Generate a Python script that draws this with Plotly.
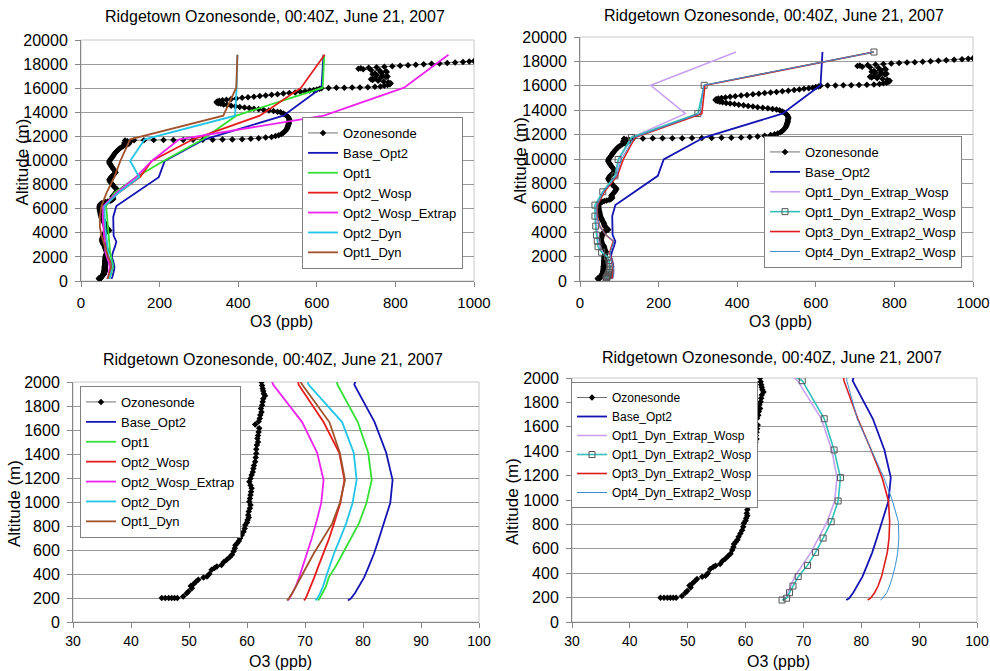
import plotly.graph_objects as go

# ---------------- DATA ----------------
TITLE = "Ridgetown Ozonesonde, 00:40Z, June 21, 2007"
X_TITLE = "O3 (ppb)"
Y_TITLE = "Altitude (m)"

TOP_X_TICKS = [0, 200, 400, 600, 800, 1000]
TOP_Y_TICKS = [0, 2000, 4000, 6000, 8000, 10000, 12000, 14000, 16000, 18000, 20000]
BOT_X_TICKS = [30, 40, 50, 60, 70, 80, 90, 100]
BOT_Y_TICKS = [0, 200, 400, 600, 800, 1000, 1200, 1400, 1600, 1800, 2000]

# Ozonesonde profile (altitude m, O3 ppb)
OZ_ALT = [199, 199, 199, 199, 199, 199, 213, 240, 255, 282, 300, 316, 335, 352, 370, 379, 400, 435, 450, 462,
          476, 500, 518, 540, 560, 590, 615, 640, 656, 675, 698, 725, 753, 780, 809, 830, 850, 870, 892, 920,
          947, 975, 1003, 1030, 1058, 1085, 1114, 1140, 1169, 1195, 1224, 1250, 1280, 1305, 1335, 1370, 1404,
          1440, 1474, 1500, 1529, 1555, 1584, 1615, 1645, 1670, 1695, 1725, 1751, 1780, 1806, 1835, 1861, 1885,
          1903, 1925, 1945, 1970, 2000,
          2100, 2200, 2300, 2400, 2500, 2600, 2700, 2800, 2900, 3000, 3100, 3200, 3300, 3400, 3500, 3600, 3700,
          3800, 3900, 4000, 4100, 4200, 4300, 4400, 4500, 4600, 4700, 4800, 4900, 5000, 5100, 5200, 5300, 5400,
          5500, 5600, 5700, 5800, 5900, 6000, 6100, 6200, 6300, 6400, 6450, 6500, 6550, 6600, 6650, 6700, 6800,
          6900, 7000, 7100, 7200, 7300, 7400, 7500, 7600, 7700, 7800, 7900, 8000, 8100, 8200, 8300, 8400, 8500,
          8600, 8700, 8800, 8900, 9000, 9100, 9200, 9300, 9400, 9500, 9600, 9700, 9800, 9900, 10000, 10100,
          10200, 10300, 10400, 10500, 10600, 10700, 10800, 10900, 11000, 11100, 11200, 11300, 11350, 11400,
          11450, 11500, 11550, 11600, 11650,
          11680, 11690, 11700, 11700, 11705, 11710, 11715, 11720, 11730, 11740, 11750, 11770, 11800, 11840,
          11900, 11960, 12030, 12100, 12200, 12300, 12400, 12500, 12600, 12700, 12800, 12900, 13000, 13100,
          13200, 13300, 13400, 13500, 13600, 13700, 13800, 13900, 14000, 14050, 14100, 14150, 14200, 14250,
          14300, 14350, 14400, 14450, 14500, 14550, 14600, 14650, 14700, 14750, 14800, 14850, 14900, 14950,
          15000, 15050, 15100, 15150, 15200, 15250, 15300, 15350, 15400, 15450, 15500, 15550, 15600, 15650,
          15700, 15750, 15800, 15850, 15900, 15950, 16000, 16020, 16030, 16040, 16050, 16060, 16080, 16110,
          16150, 16200, 16260, 16330, 16420, 16500, 16560, 16620, 16680, 16740, 16800, 16860, 16920, 16980,
          17040, 17100, 17160, 17220, 17280, 17340, 17400, 17460, 17520, 17570, 17620, 17660, 17700, 17740,
          17780, 17820, 17860, 17900, 17940, 17980, 18020, 18060, 18100, 18140, 18180, 18220, 18260]
OZ_O3 = [45.3, 45.9, 46.5, 47.0, 47.5, 48.0, 49.0, 49.6, 49.9, 50.5, 50.3, 50.8, 51.2, 51.6, 52.5, 53.1, 53.5, 53.9, 54.4, 54.8,
         55.6, 56.0, 56.5, 57.0, 57.4, 57.7, 57.9, 58.0, 58.3, 58.6, 58.8, 59.1, 59.4, 59.6, 59.7, 60.0, 60.1, 60.3, 60.2, 60.3,
         60.5, 60.6, 60.4, 60.5, 60.6, 60.7, 60.8, 60.6, 60.4, 60.6, 60.8, 61.0, 61.1, 61.2, 61.4, 61.5, 61.6,
         61.6, 61.7, 61.9, 61.8, 61.9, 62.0, 62.1, 61.4, 62.0, 62.2, 62.3, 62.5, 62.4, 62.6, 62.7, 62.8, 63.1,
         62.9, 62.8, 62.7, 62.6, 62.5,
         63, 64, 65, 66, 64, 63, 62, 61, 60, 58, 56, 55, 54, 53, 54, 55, 56,
         57, 58, 60, 66, 72, 69, 65, 63, 62, 61, 60, 58, 56, 55, 53, 52, 51,
         50, 50, 49, 48, 48, 47, 47, 47, 48, 50, 53, 57, 62, 68, 74, 78, 82,
         81, 80, 82, 85, 88, 90, 92, 92, 88, 85, 82, 80, 78, 75, 73, 72, 74,
         76, 79, 82, 85, 88, 87, 85, 82, 80, 78, 76, 74, 72, 72, 73, 75,
         78, 80, 82, 84, 86, 89, 92, 95, 98, 103, 108, 114, 118, 122,
         110, 115, 125, 118, 112,
         135, 160, 185, 210, 235, 260, 285, 310, 335, 360, 385, 410, 432, 452,
         470, 485, 495, 503, 510, 515, 518, 521, 523, 525, 526, 527, 528, 529,
         529, 530, 530, 529, 527, 524, 520, 515, 508, 500, 490, 478, 465, 452,
         440, 428, 416, 404, 393, 382, 372, 363, 356, 350, 346, 345, 347, 352,
         360, 370, 382, 395, 410, 425, 440, 455, 470, 485, 500, 515, 530, 545,
         558, 570, 582, 592, 600, 607, 612, 630, 650, 670, 690, 710, 730, 748,
         762, 772, 780, 786, 788, 782, 770, 756, 742, 738, 748, 762, 776, 780,
         768, 752, 742, 748, 764, 778, 776, 760, 738, 718, 706, 712, 732, 752,
         772, 792, 812, 832, 852, 872, 892, 912, 932, 952, 972, 988, 1000]

# Model levels (m) shared by all model runs
LEVELS = [180, 195, 240, 295, 372, 464, 571, 688, 822, 992, 1183, 1410, 1666, 1978,
          2360, 2810, 3260, 3770, 4500, 5320, 6220, 7310, 8620, 9960, 11760, 13720, 16040, 18770]

BASE_OPT2 = [77.4, 77.9, 78.6, 79.3, 80.2, 81.0, 81.9, 82.7, 83.6, 84.7, 85.1, 84.0, 82.0, 78.5,
             81, 86, 90, 83, 82, 82, 90, 140, 198, 213, 315, 515, 612, 617]
OPT1 = [72.2, 72.5, 73.0, 73.6, 74.1, 75.3, 76.5, 77.8, 79.3, 80.6, 81.5, 80.9, 79.1, 75.6,
        74, 73, 72, 70, 68, 66, 64, 85, 140, 210, 310, 395, 615, 619]
OPT2_WOSP = [69.8, 70.1, 70.5, 71.0, 71.6, 72.3, 73.2, 74.1, 75.0, 76.1, 76.8, 75.9, 73.2, 68.9,
             68, 66, 64, 62, 60, 58, 60, 95, 150, 180, 285, 455, 560, 620]
OPT2_WOSP_EXTRAP = [67.0, 67.3, 67.8, 68.4, 69.0, 69.6, 70.4, 71.1, 71.9, 72.8, 73.2, 72.1, 69.5, 64.5,
                    62, 61, 60, 58, 56, 55, 57, 90, 140, 180, 250, 618, 822, 935]
OPT2_DYN = [71.8, 72.1, 72.6, 73.1, 73.6, 74.2, 75.0, 76.0, 77.1, 78.2, 78.9, 78.4, 76.4, 70.6,
            69, 68, 66, 64, 62, 60, 60, 95, 148, 125, 162, 392, 396, 398]
OPT1_DYN = [66.9, 67.2, 67.8, 68.4, 69.3, 70.3, 71.5, 73.0, 74.7, 76.0, 76.9, 76.0, 74.2, 69.5,
            66, 62, 58, 52, 48, 48, 52, 65, 85, 100, 125, 362, 395, 398]
OPT1_DYN_EXTRAP_WOSP = [66.6, 66.9, 67.3, 67.8, 68.5, 69.8, 71.3, 72.6, 74.1, 75.4, 75.8, 74.9, 73.1, 69.0,
                        58, 50, 47, 45, 43, 41, 41, 60, 92, 100, 131, 268, 180, 397]
OPT1_DYN_EXTRAP2_WOSP = [66.3, 67.1, 67.6, 68.2, 69.1, 70.7, 72.1, 73.4, 74.8, 76.0, 76.4, 75.3, 73.6, 69.8,
                         55, 46, 44, 42, 40, 38, 38, 58, 89, 97, 131, 300, 316, 748]
OPT3_DYN_EXTRAP2_WOSP = [81.1, 81.6, 82.3, 82.9, 83.5, 84.0, 84.5, 84.8, 84.9, 84.7, 83.6, 81.7, 79.4, 77.0,
                         76, 80, 85, 66, 50, 44, 44, 62, 95, 110, 140, 310, 318, 748]
OPT4_DYN_EXTRAP2_WOSP = [83.3, 83.7, 84.4, 84.9, 85.4, 85.9, 86.3, 86.5, 86.4, 85.4, 83.9, 81.8, 79.3, 77.5,
                         77, 81, 86, 66, 50, 43, 43, 60, 93, 105, 138, 305, 315, 748]

# ---------------- STYLE / LAYOUT ----------------
W, H = 990, 671
FONT = "Liberation Sans, Arial, sans-serif"

def px_x(p):
    return p / W

def px_y(p):
    return 1 - p / H

SERIES_LEFT = [
    ("Base_Opt2", BASE_OPT2, "#1414b4", 1.8),
    ("Opt1", OPT1, "#33e033", 1.8),
    ("Opt2_Wosp", OPT2_WOSP, "#e81c1c", 1.8),
    ("Opt2_Wosp_Extrap", OPT2_WOSP_EXTRAP, "#ee22ee", 1.8),
    ("Opt2_Dyn", OPT2_DYN, "#22c4e8", 1.8),
    ("Opt1_Dyn", OPT1_DYN, "#a0522d", 1.8),
]
SERIES_RIGHT = [
    ("Base_Opt2", BASE_OPT2, "#1414b4", 1.8, None),
    ("Opt1_Dyn_Extrap_Wosp", OPT1_DYN_EXTRAP_WOSP, "#c9a0ef", 1.6, None),
    ("Opt1_Dyn_Extrap2_Wosp", OPT1_DYN_EXTRAP2_WOSP, "#33c0b8", 1.6, "square-open"),
    ("Opt3_Dyn_Extrap2_Wosp", OPT3_DYN_EXTRAP2_WOSP, "#dc1c1c", 1.6, None),
    ("Opt4_Dyn_Extrap2_Wosp", OPT4_DYN_EXTRAP2_WOSP, "#3a8fd0", 1.0, None),
]

fig = go.Figure()

panels = [
    # (axis suffix, legend name, series set, x domain px, y domain px, title y px, x-title y px)
    ("", "legend", "left", (81, 474), (40, 281), 17, 321),
    ("2", "legend2", "right", (580, 973), (37, 281), 15, 321),
    ("3", "legend3", "left", (73, 479), (382, 622), 359, 661),
    ("4", "legend4", "right", (572, 977), (378, 622), 357, 661),
]

for suf, leg, kind, xd, yd, ty, xty in panels:
    xa, ya = "x" + suf, "y" + suf
    fig.add_trace(go.Scatter(
        x=OZ_O3, y=OZ_ALT, name="Ozonesonde", mode="lines+markers",
        line=dict(color="#707070", width=1),
        marker=dict(symbol="diamond", size=5, color="black"),
        xaxis=xa, yaxis=ya, legend=leg, showlegend=True))
    if kind == "left":
        for name, vals, col, w in SERIES_LEFT:
            fig.add_trace(go.Scatter(
                x=vals, y=LEVELS, name=name, mode="lines",
                line=dict(color=col, width=w),
                xaxis=xa, yaxis=ya, legend=leg, showlegend=True))
    else:
        for name, vals, col, w, sym in SERIES_RIGHT:
            if sym:
                fig.add_trace(go.Scatter(
                    x=vals, y=LEVELS, name=name, mode="lines+markers",
                    line=dict(color=col, width=w),
                    marker=dict(symbol=sym, size=6, color="#555555", line=dict(width=1)),
                    xaxis=xa, yaxis=ya, legend=leg, showlegend=True))
            else:
                fig.add_trace(go.Scatter(
                    x=vals, y=LEVELS, name=name, mode="lines",
                    line=dict(color=col, width=w),
                    xaxis=xa, yaxis=ya, legend=leg, showlegend=True))

axis_common = dict(showline=True, linecolor="#868686", linewidth=1, ticks="outside",
                   ticklen=5, tickcolor="#868686", zeroline=False, automargin=False)

layout = dict(
    width=W, height=H, autosize=False,
    margin=dict(l=0, r=0, t=0, b=0, pad=0),
    paper_bgcolor="white", plot_bgcolor="white",
    font=dict(family=FONT, color="black"),
)

annotations = []
shapes = []
for suf, leg, kind, xd, yd, ty, xty in panels:
    is_top = suf in ("", "2")
    xr = [0, 1000] if is_top else [30, 100]
    yr = [0, 20000] if is_top else [0, 2000]
    xt = TOP_X_TICKS if is_top else BOT_X_TICKS
    yt = TOP_Y_TICKS if is_top else BOT_Y_TICKS
    layout["xaxis" + suf] = dict(axis_common, domain=[px_x(xd[0]), px_x(xd[1])], range=xr,
                                 tickvals=xt, ticktext=[str(v) for v in xt], showgrid=False,
                                 anchor="y" + suf, ticklabelstandoff=(3 if is_top else 1),
                                 ticklabeloverflow="allow",
                                 tickfont=dict(family=FONT, size=(15 if is_top else 14), color="black"))
    layout["yaxis" + suf] = dict(axis_common, domain=[px_y(yd[1]), px_y(yd[0])], range=yr,
                                 tickvals=yt, ticktext=[str(v) for v in yt],
                                 showgrid=True, gridcolor="#9a9a9a", gridwidth=1.2,
                                 anchor="x" + suf, ticklabelstandoff=4,
                                 ticklabeloverflow="allow",
                                 tickfont=dict(family=FONT, size=16, color="black"))
    xref = ("x" + suf if suf else "x") + " domain"
    yref = ("y" + suf if suf else "y") + " domain"
    shapes.append(dict(type="rect", xref=xref, yref=yref, x0=0, x1=1, y0=0, y1=1,
                       line=dict(color="#c8c8c8", width=1), layer="below"))
    cx = (xd[0] + xd[1]) / 2
    annotations.append(dict(text=TITLE, xref="paper", yref="paper",
                            x=px_x(cx - 3), y=px_y(ty), xanchor="center", yanchor="middle",
                            showarrow=False, font=dict(family=FONT, size=16, color="black")))
    annotations.append(dict(text=X_TITLE, xref="paper", yref="paper",
                            x=px_x(cx + 4), y=px_y(xty), xanchor="center", yanchor="middle",
                            showarrow=False, font=dict(family=FONT, size=16, color="black")))
    annotations.append(dict(text=Y_TITLE, xref="paper", yref="paper", textangle=-90,
                            x=px_x(xd[0] - 59), y=px_y((yd[0] + yd[1]) / 2 + 2),
                            xanchor="center", yanchor="middle",
                            showarrow=False, font=dict(family=FONT, size=17, color="black")))

legend_common = dict(bgcolor="white", bordercolor="#808080", borderwidth=1,
                     font=dict(family=FONT, size=13, color="black"), itemwidth=30,
                     tracegroupgap=0)
layout["legend"] = dict(legend_common, x=px_x(463), y=px_y(269), xanchor="right", yanchor="bottom")
layout["legend2"] = dict(legend_common, x=px_x(962), y=px_y(268), xanchor="right", yanchor="bottom")
layout["legend3"] = dict(legend_common, x=px_x(80), y=px_y(386), xanchor="left", yanchor="top")
layout["legend4"] = dict(legend_common, x=px_x(571), y=px_y(382), xanchor="left", yanchor="top",
                         font=dict(family=FONT, size=12, color="black"))
layout["annotations"] = annotations
layout["shapes"] = shapes

fig.update_layout(**layout)
fig.write_html("out.html", config={"displayModeBar": False},
               post_script="document.body.style.margin='0px';")
